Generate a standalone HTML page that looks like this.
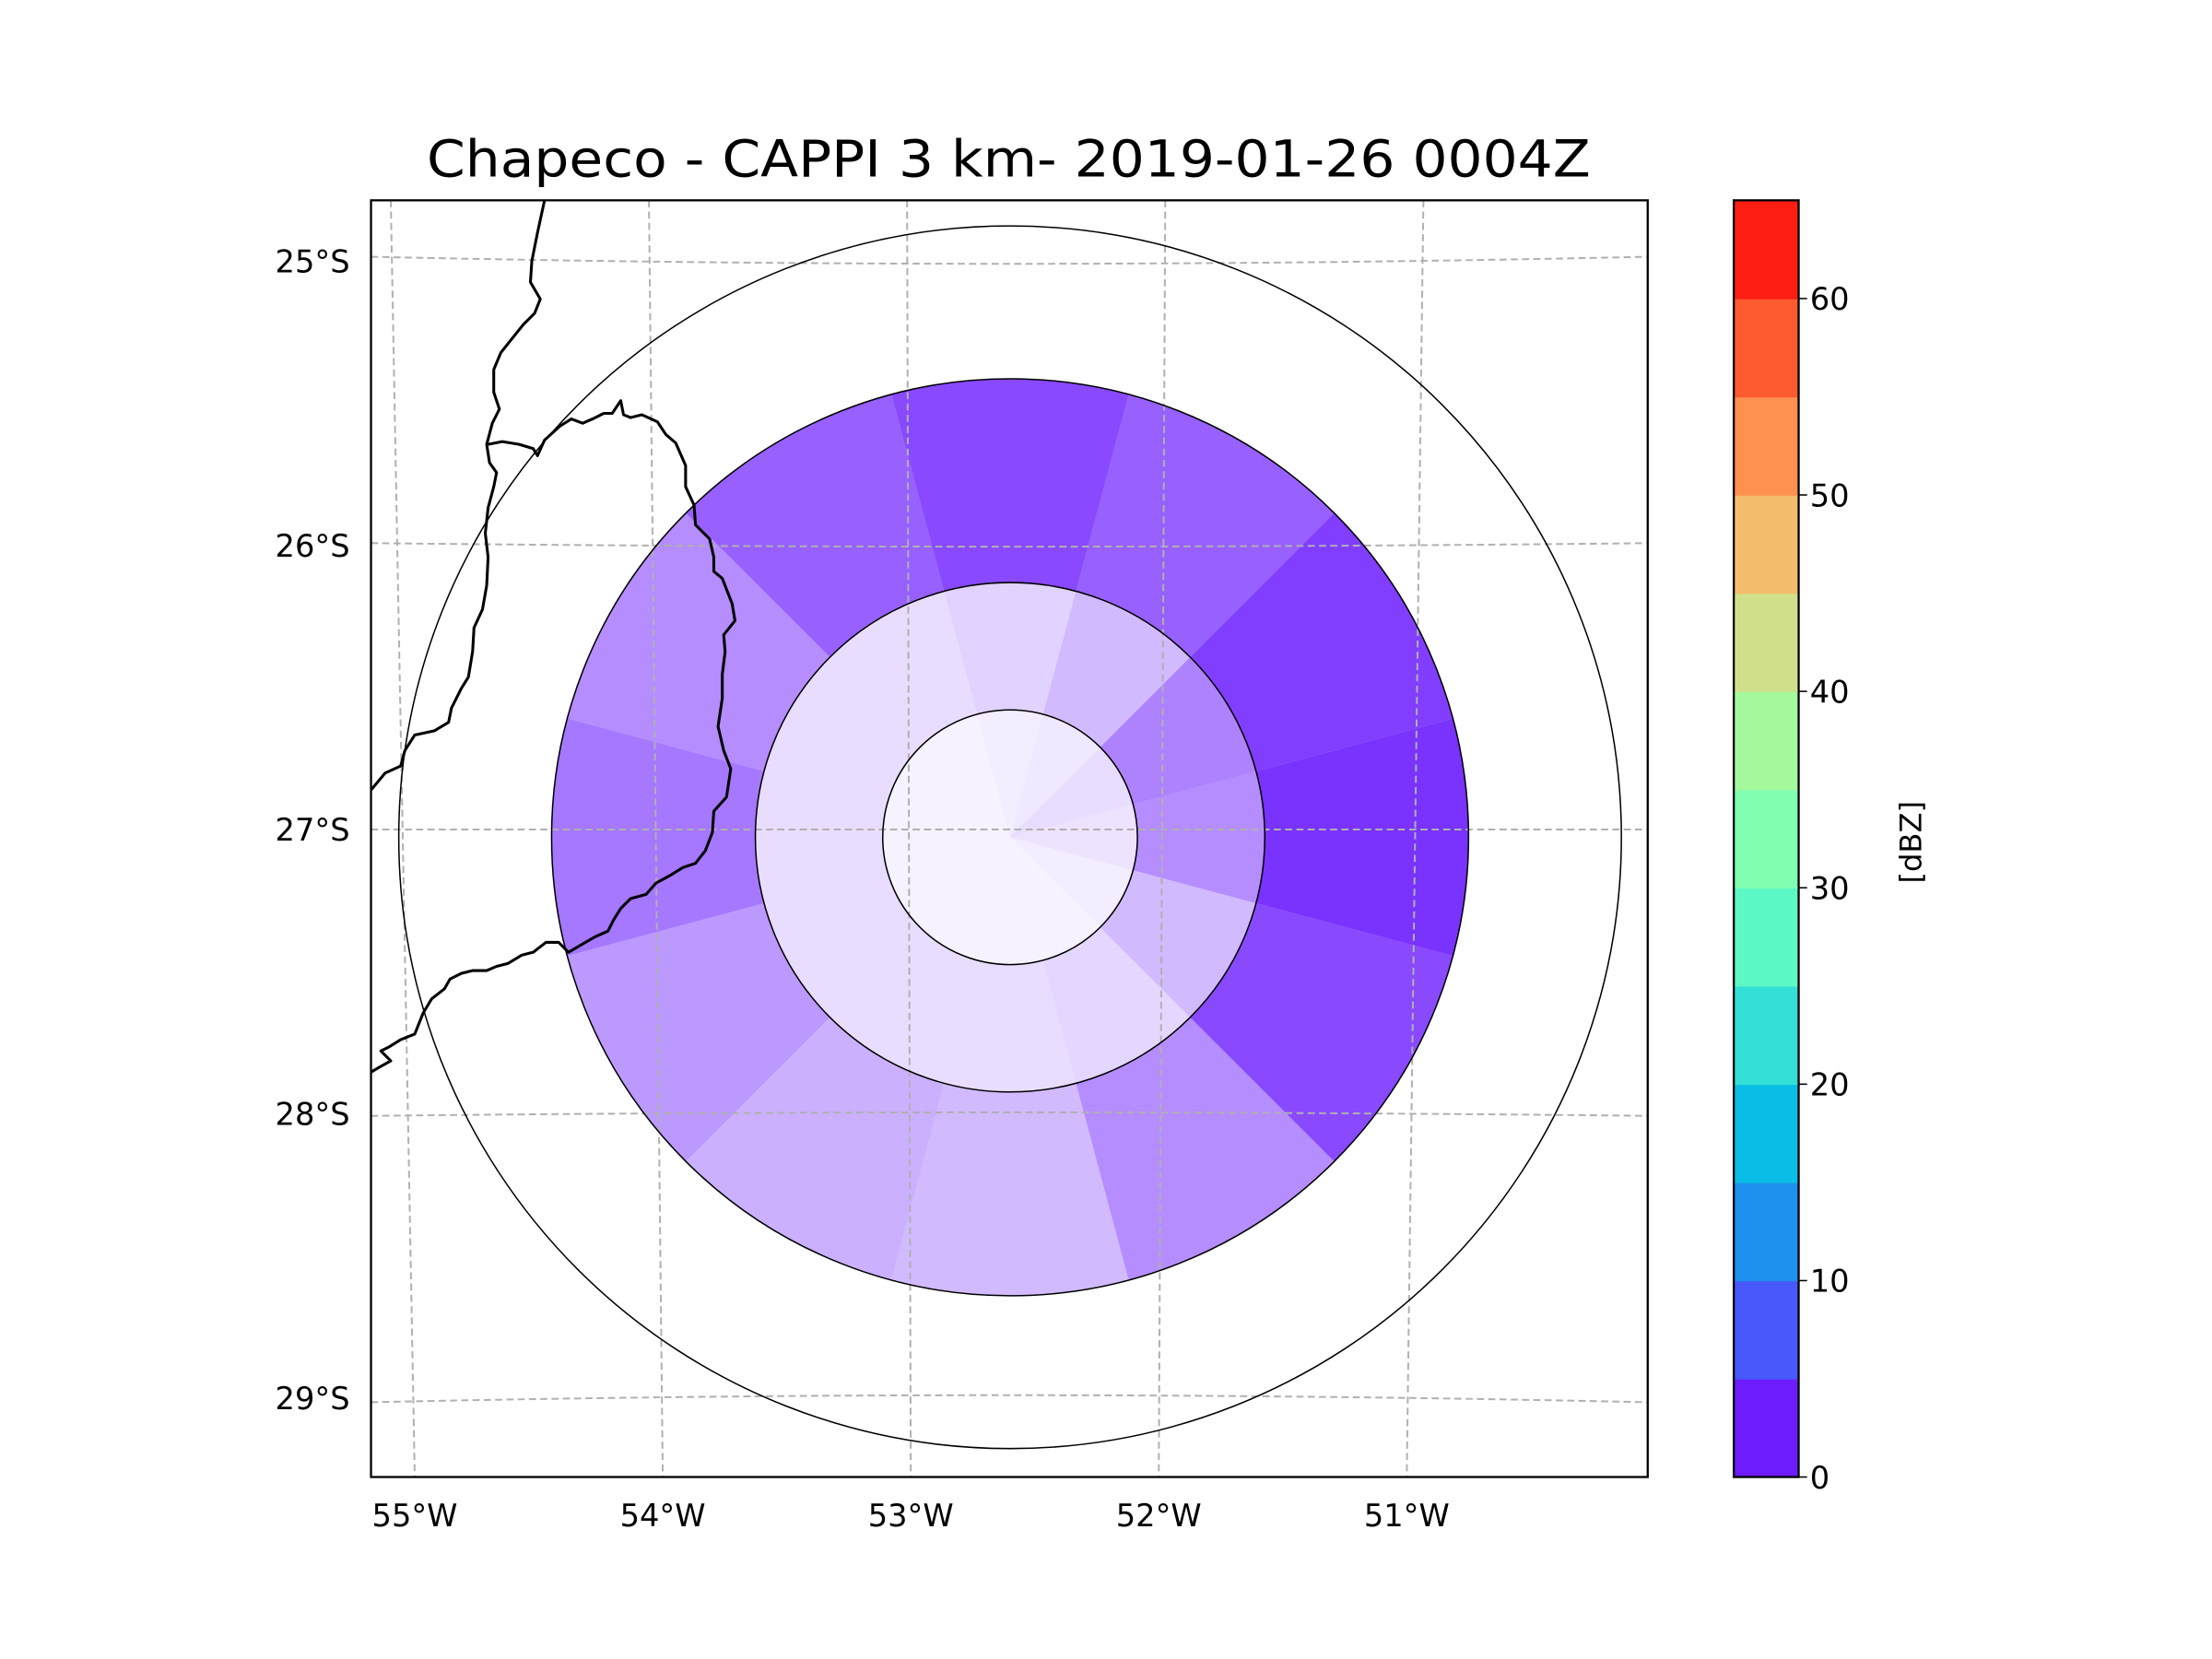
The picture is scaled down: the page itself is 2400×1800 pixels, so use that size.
<!DOCTYPE html>
<html><head><meta charset="utf-8"><style>
html,body{margin:0;padding:0;background:#fff;}
svg{display:block;font-family:"DejaVu Sans","Liberation Sans",sans-serif;}
</style></head><body>
<svg id="fig" width="2400" height="1800" viewBox="0 0 1568 1176" xmlns="http://www.w3.org/2000/svg">
<rect width="1568" height="1176" fill="#fff"/>
<text x="715" y="125" font-size="36" text-anchor="middle" textLength="825" lengthAdjust="spacingAndGlyphs">Chapeco - CAPPI 3 km- 2019-01-26 0004Z</text>
<defs><clipPath id="axclip"><rect x="263" y="142" width="905" height="905"/></clipPath></defs>
<g id="echo" clip-path="url(#axclip)"></g>
<g id="grid" clip-path="url(#axclip)"></g>
<g id="rings"></g>
<g clip-path="url(#axclip)" fill="none" stroke="#000" stroke-width="2" stroke-linejoin="round">
<polyline points="386,142 381,165 377,185 376,200 383,212 379,222 371,230 363,240 355,250 350,262 350,278 354,290 349,300 345,315 347,328 352,335 350,345 346,360 344,378 346,395 345,415 342,432 336,445 335,462 332,480 327,488 320,502 318,512 308,518 294,521 287,532 284,543 273,548 263,560"/>
<polyline points="346,315 356,313 368,315 378,318 381,323 386,312 397,302 405,297 413,300 420,297 428,293 434,293 440,284 442,294 447,296 455,294 466,299 472,308 479,314 486,330 486,345 492,358 493,372 503,382 506,395 506,405 512,410 519,428 521,440 513,450 514,462 512,478 512,495 509,515 513,532 518,545 515,565 506,575 505,590 500,603 493,612 484,615 476,620 465,626 458,634 447,637 440,644 435,652 431,660 422,664 415,668 403,675 396,668 387,668 378,675 370,677 360,683 352,685 345,688 335,688 327,690 319,694 315,701 306,708 300,718 294,733 284,737 276,742 270,745 277,752 268,757 263,760"/>
</g>
<rect x="263" y="142" width="905" height="905" fill="none" stroke="#000" stroke-width="1.5"/>
<g id="ticks" font-size="22"></g>
<g id="cbar"></g>
<text transform="translate(1362,597) rotate(-90)" font-size="21" text-anchor="middle">[dBZ]</text>
</svg>
<script>
// ---- data ----
const latLabels = ["25°S","26°S","27°S","28°S","29°S"];
const lonLabels = ["55°W","54°W","53°W","52°W","51°W"];
const cbarTicks = [0,10,20,30,40,50,60];
const cbarColors = ["#6c1cff","#4858fa","#1e90ee","#0abde6","#32e0d8","#5cf8c5","#80ffb0","#a4f99c","#d0e08a","#f4bd6e","#ff9050","#ff5a30","#ff1e14"];
const ringRadiiKm = [50, 100, 180, 240];
const sectorAz = [0,30,60,90,120,150,180,210,240,270,300,330];
const outerCoverage = [0.8,0.7,0.85,0.9,0.8,0.5,0.3,0.35,0.45,0.6,0.5,0.7];
const innerCoverage = [0.2,0.3,0.55,0.5,0.3,0.18,0.15,0.15,0.15,0.15,0.15,0.15];
const coreCoverage = [0.08,0.1,0.15,0.12,0.08,0.06,0.06,0.06,0.06,0.06,0.06,0.06];

// ---- scales ----
const NS="http://www.w3.org/2000/svg";
const cx=716, cy=593.5, pxPerKm=325/180;
const rPix = km => km*pxPerKm;
const latY = i => 185 + i*201.5;
const lonX = i => 294 + i*175.8;
const lonTopX = i => 277 + i*183;
function mk(t,a,parent){const e=document.createElementNS(NS,t);for(const k in a)e.setAttribute(k,a[k]);parent.appendChild(e);return e;}
function pt(az,r){const a=az*Math.PI/180;return [cx+r*Math.sin(a), cy-r*Math.cos(a)];}

const echo=document.getElementById('echo');
function band(cov,r0,r1,nm){
  cov.forEach((c,i)=>{
    const a0=sectorAz[i]-15,a1=sectorAz[i]+15;
    const [x0,y0]=pt(a0,r1),[x1,y1]=pt(a1,r1),[x2,y2]=pt(a1,r0),[x3,y3]=pt(a0,r0);
    let d=`M${x0},${y0} A${r1},${r1} 0 0 1 ${x1},${y1} L${x2},${y2}`;
    d+= r0>0?` A${r0},${r0} 0 0 0 ${x3},${y3} Z`:' Z';
    const p=mk('path',{d:d,fill:'#6b1cff','fill-opacity':c},echo);
    
    
  });
}
band(outerCoverage,rPix(100),rPix(180),'outer-echo');
band(innerCoverage,rPix(50),rPix(100),'inner-echo');
band(coreCoverage,0,rPix(50),'core-echo');

const grid=document.getElementById('grid');
latLabels.forEach((l,i)=>{
  const y=latY(i)+ (i-2)*1.5;
  const bow=(i-2)*-2.5;
  const g=mk('path',{d:`M263,${y} Q715,${y+bow*2} 1168,${y}`,fill:'none',stroke:'#b0b0b0','stroke-width':1.3,'stroke-dasharray':'5,3'},grid);
  
  
});
lonLabels.forEach((l,i)=>{
  const g=mk('line',{x1:lonTopX(i),y1:142,x2:lonX(i),y2:1047,stroke:'#b0b0b0','stroke-width':1.3,'stroke-dasharray':'5,3'},grid);
  
  
});

const rings=document.getElementById('rings');
ringRadiiKm.forEach(k=>{
  const c=mk('circle',{cx:cx,cy:cy,r:rPix(k),fill:'none',stroke:'#000','stroke-width':1},rings);
  
  
});

const ticks=document.getElementById('ticks');
latLabels.forEach((l,i)=>{
  const t=mk('text',{x:248,y:latY(i)+8,'text-anchor':'end'},ticks);t.textContent=l;
  
  
});
lonLabels.forEach((l,i)=>{
  const t=mk('text',{x:lonX(i),y:1082,'text-anchor':'middle'},ticks);t.textContent=l;
  
  
});

const cb=document.getElementById('cbar');
const cbTop=142,cbBot=1047,cbL=1229,cbW=46,vmax=65;
const cbY=v=>cbBot-(v/vmax)*(cbBot-cbTop);
cbarColors.forEach((c,i)=>{
  const r=mk('rect',{x:cbL,y:cbY((i+1)*5),width:cbW,height:cbY(i*5)-cbY((i+1)*5)+0.5,fill:c},cb);
  
  
});
const fr=mk('rect',{x:cbL,y:cbTop,width:cbW,height:cbBot-cbTop,fill:'none',stroke:'#000','stroke-width':1.5},cb);


cbarTicks.forEach(v=>{
  const ln=mk('line',{x1:cbL+cbW,x2:cbL+cbW+6,y1:cbY(v),y2:cbY(v),stroke:'#000','stroke-width':1},cb);
  
  
  const t=mk('text',{x:1283,y:cbY(v)+8,'font-size':22},cb);t.textContent=v;
  
  
});
</script>
</body></html>
